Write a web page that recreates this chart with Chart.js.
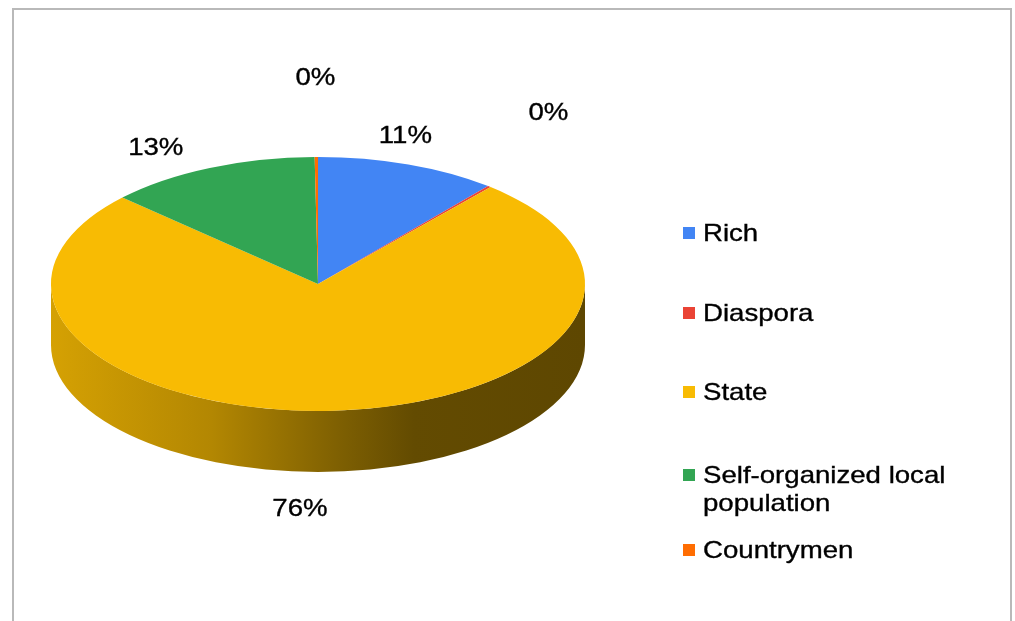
<!DOCTYPE html>
<html>
<head>
<meta charset="utf-8">
<script src="https://cdn.jsdelivr.net/npm/chart.js@4.4.1/dist/chart.umd.min.js"></script>
<style>
  html, body { margin: 0; padding: 0; background: #fff; }
  #wrap { position: relative; width: 1015px; height: 621px; overflow: hidden; font-family: "Liberation Sans", Arial, sans-serif; }
  #frame { position: absolute; left: 12px; top: 8px; width: 1000px; height: 640px; border: 2px solid #b9b9b9; box-sizing: border-box; }
  #c { position: absolute; left: 0; top: 0; }
  .lg { position: absolute; left: 683px; display: flex; align-items: flex-start; }
  .lg .sw { width: 12px; height: 12px; margin-top: 8px; margin-right: 8px; flex: none; }
  .lg .tx { font-size: 24px; line-height: 28px; color: #000; -webkit-text-stroke: 0.35px #000; transform: scaleX(1.15); transform-origin: left center; max-width: 225px; }
</style>
</head>
<body>
<div id="wrap">
  <div id="frame"></div>
  <canvas id="c" width="1015" height="621"></canvas>
  <div id="legend"></div>
</div>
<script>
// ---- data ----
const categories = ["Rich", "Diaspora", "State", "Self-organized local population", "Countrymen"];
const shares = [11.0, 0.2, 75.8, 12.9, 0.2];
const sliceColors = ["#4285f4", "#ea4335", "#f8bb03", "#32a553", "#ff6d01"];

// ---- layout / style settings ----
const legendTops = [219, 299, 378, 461, 536];
const labelNudges = [[-3, -28], [59, -73], [-34, 38], [-54, -20], [-1, -79]];
const tilt = 127 / 267;   // vertical squash of the pie
const depth = 61;          // thickness of the 3D side

function shade(hex, f) {
  const n = parseInt(hex.slice(1), 16);
  const r = Math.round(((n >> 16) & 255) * f), g = Math.round(((n >> 8) & 255) * f), b = Math.round((n & 255) * f);
  return `rgb(${r},${g},${b})`;
}

const pie3d = {
  id: 'pie3d',
  beforeDatasetsDraw(chart) {
    const ctx = chart.ctx;
    const meta = chart.getDatasetMeta(0);
    const first = meta.data[0];
    const cx = first.x, cy = first.y, rx = first.outerRadius, ry = rx * tilt;
    meta.data.forEach((arc, i) => {
      let s = arc.startAngle, e = arc.endAngle;
      for (const base of [-2 * Math.PI, 0, 2 * Math.PI]) {
        const a1 = Math.max(s, base), a2 = Math.min(e, base + Math.PI);
        if (a2 > a1) {
          const g = ctx.createLinearGradient(cx - rx, 0, cx + rx, 0);
          const col = sliceColors[i];
          g.addColorStop(0, shade(col, 0.86));
          g.addColorStop(0.3, shade(col, 0.72));
          g.addColorStop(0.55, shade(col, 0.5));
          g.addColorStop(0.68, shade(col, 0.4));
          g.addColorStop(1, shade(col, 0.38));
          ctx.save();
          ctx.beginPath();
          ctx.ellipse(cx, cy, rx, ry, 0, a1, a2, false);
          ctx.ellipse(cx, cy + depth, rx, ry, 0, a2, a1, true);
          ctx.closePath();
          ctx.fillStyle = g;
          ctx.fill();
          ctx.restore();
        }
      }
    });
    ctx.save();
    ctx.translate(cx, cy);
    ctx.scale(1, tilt);
    ctx.translate(-cx, -cy);
  },
  afterDatasetsDraw(chart) {
    chart.ctx.restore();
  },
  afterDraw(chart) {
    const ctx = chart.ctx;
    const meta = chart.getDatasetMeta(0);
    const vals = chart.data.datasets[0].data;
    const total = vals.reduce((a, b) => a + b, 0);
    meta.data.forEach((arc, i) => {
      const rx = arc.outerRadius, ry = rx * tilt;
      const m = (arc.startAngle + arc.endAngle) / 2;
      let x = arc.x + rx * Math.cos(m);
      let y = arc.y + ry * Math.sin(m) + (Math.sin(m) > 0 ? depth : 0);
      x += labelNudges[i][0]; y += labelNudges[i][1];
      const txt = Math.round(vals[i] / total * 100) + '%';
      ctx.save();
      ctx.translate(x, y);
      ctx.scale(1.15, 1);
      ctx.font = '24px "Liberation Sans", Arial, sans-serif';
      ctx.fillStyle = '#000';
      ctx.strokeStyle = '#000';
      ctx.lineWidth = 0.35;
      ctx.textAlign = 'center';
      ctx.textBaseline = 'middle';
      ctx.fillText(txt, 0, 0);
      ctx.strokeText(txt, 0, 0);
      ctx.restore();
    });
  }
};

new Chart(document.getElementById('c'), {
  type: 'pie',
  data: {
    labels: categories,
    datasets: [{ data: shares, backgroundColor: sliceColors, borderWidth: 0, radius: 267 }]
  },
  options: {
    responsive: false,
    animation: false,
    devicePixelRatio: 1,
    layout: { padding: { left: 51, top: 17, right: 430, bottom: 70 } },
    plugins: { legend: { display: false }, tooltip: { enabled: false } }
  },
  plugins: [pie3d]
});

const lg = document.getElementById('legend');
categories.forEach((name, i) => {
  const d = document.createElement('div');
  d.className = 'lg';
  d.style.top = legendTops[i] + 'px';
  const sw = document.createElement('span');
  sw.className = 'sw';
  sw.style.background = sliceColors[i];
  const tx = document.createElement('span');
  tx.className = 'tx';
  tx.textContent = name;
  d.appendChild(sw); d.appendChild(tx);
  lg.appendChild(d);
});
</script>
</body>
</html>
